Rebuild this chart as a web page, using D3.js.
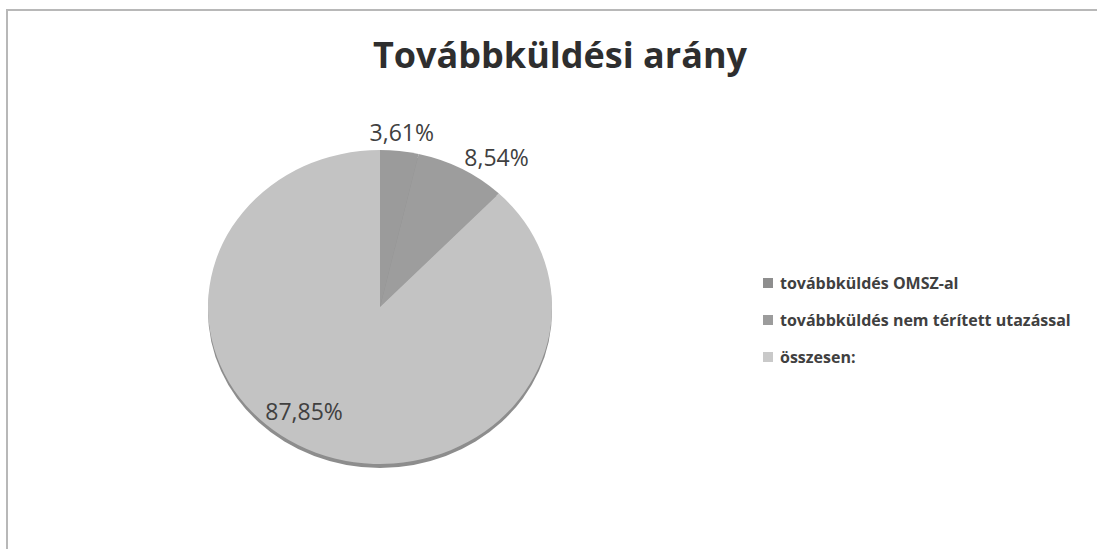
<!DOCTYPE html>
<html>
<head>
<meta charset="utf-8">
<script src="https://cdn.jsdelivr.net/npm/d3@7"></script>
<style>
	body { margin: 0; background: #fff; }
	svg { display: block; }
</style>
</head>
<body>
<svg id="chart" width="1097" height="549"></svg>
<script>
// data
var categories = ["továbbküldés OMSZ-al", "továbbküldés nem térített utazással", "összesen:"];
var values = [3.61, 8.54, 87.85];
var labels = ["3,61%", "8,54%", "87,85%"];
var colors = ["#9b9b9b", "#9d9d9d", "#c3c3c3"];
var legendColors = ["#8e8e8e", "#9c9c9c", "#c9c9c9"];

var W = 1097, H = 549;
var cx = 380, cy = 307, rx = 172, ry = 157;

var svg = d3.select("#chart");

// chart frame
svg.append("path")
	.attr("d", "M7," + H + " L7,10 L" + W + ",10")
	.attr("fill", "none")
	.attr("stroke", "#b8b8b8")
	.attr("stroke-width", 2)

// title
svg.append("text")
	.attr("x", 560)
	.attr("y", 68)
	.attr("text-anchor", "middle")
	.style("font-family", "'Open Sans', sans-serif")
	.style("font-weight", "bold")
	.style("font-size", "36px")
	.attr("fill", "#2e2e2e")
	.text("Továbbküldési arány")

var pie = d3.pie().sort(null).value(function(d) { return d; })
var arcs = pie(values)
var arc = d3.arc().innerRadius(0).outerRadius(rx)

var g = svg.append("g").attr("transform", "translate(" + cx + "," + cy + ")")

// 3d rim under the pie
g.append("ellipse")
	.attr("cx", 0).attr("cy", 4)
	.attr("rx", rx).attr("ry", ry)
	.attr("fill", "#8d8d8d")

var slices = g.append("g").attr("transform", "scale(1," + (ry / rx) + ")")
slices.selectAll("path").data(arcs).enter().append("path")
	.attr("d", arc)
	.attr("fill", function(d, i) { return colors[i]; })

// labels: small slices outside, big one inside (excel "best fit")
var labelArc = [d3.arc().innerRadius(192).outerRadius(192),
				d3.arc().innerRadius(186).outerRadius(186),
				d3.arc().innerRadius(124).outerRadius(124)]
var anchors = ["middle", "start", "end"]
var nudge = [0, -4, 9]
g.selectAll("text.lbl").data(arcs).enter().append("text")
	.attr("class", "lbl")
	.attr("x", function(d, i) { return labelArc[i].centroid(d)[0] + nudge[i] })
	.attr("y", function(d, i) { return labelArc[i].centroid(d)[1] * ry / rx + 8 })
	.attr("text-anchor", function(d, i) { return anchors[i] })
	.style("font-family", "'Open Sans', sans-serif")
	.style("font-size", "23px")
	.attr("fill", "#404040")
	.text(function(d, i) { return labels[i] })

// legend
var lg = svg.append("g").attr("transform", "translate(763,283)")
var item = lg.selectAll("g").data(categories).enter().append("g")
	.attr("transform", function(d, i) { return "translate(0," + (i * 37) + ")" })
item.append("rect")
	.attr("x", 0).attr("y", -5)
	.attr("width", 10).attr("height", 10)
	.attr("fill", function(d, i) { return legendColors[i] })
item.append("text")
	.attr("x", 17).attr("y", 6)
	.style("font-family", "'Open Sans', sans-serif")
	.style("font-weight", "bold")
	.style("font-size", "16px")
	.attr("fill", "#404040")
	.text(function(d) { return d })
</script>
</body>
</html>
